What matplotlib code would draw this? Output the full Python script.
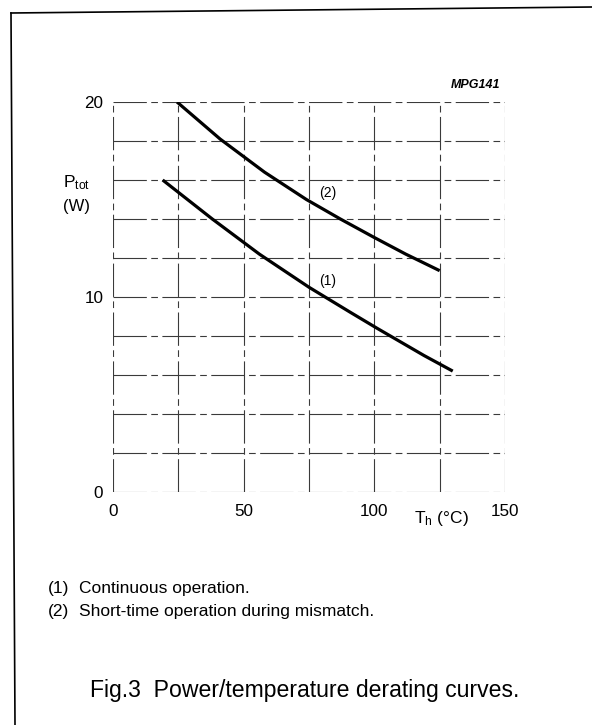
import matplotlib
matplotlib.use('Agg')
import matplotlib.pyplot as plt
from matplotlib.lines import Line2D

plt.rcParams['font.family'] = ['Liberation Sans', 'DejaVu Sans']
plt.rcParams['mathtext.fontset'] = 'custom'
plt.rcParams['mathtext.rm'] = 'Liberation Sans'
plt.rcParams['mathtext.it'] = 'Liberation Sans:italic'

# ---- data ----
temp_1 = [19, 38, 56, 75, 91, 101, 119, 130]          # curve (1) Th (degC)
ptot_1 = [16.0, 14.0, 12.2, 10.5, 9.2, 8.4, 7.0, 6.2]  # curve (1) Ptot (W)
temp_2 = [24.5, 41, 58, 74, 87, 100, 112, 125]         # curve (2)
ptot_2 = [20.0, 18.1, 16.4, 15.0, 14.0, 13.05, 12.2, 11.35]
x_ticks = [0, 50, 100, 150]
y_ticks = [0, 10, 20]
x_grid = [0, 25, 50, 75, 100, 125, 150]
y_grid = [0, 2, 4, 6, 8, 10, 12, 14, 16, 18, 20]
curve_labels = ["(1)", "(2)"]
notes_num = ["(1)", "(2)"]
notes_txt = ["Continuous operation.", "Short-time operation during mismatch."]
caption = "Fig.3  Power/temperature derating curves."
code_label = "MPG141"

W, H = 592, 725
fig = plt.figure(figsize=(W / 100, H / 100), dpi=100)
fig.patch.set_facecolor('white')

ax = fig.add_axes([113 / W, 1 - 492 / H, 392 / W, 390 / H])
ax.set_xlim(0, 150)
ax.set_ylim(0, 20)
for s in ax.spines.values():
    s.set_visible(False)

grid_style = dict(color='#3a3a3a', lw=0.8, ls=(0, (30, 4, 6, 4)), zorder=1)
for gx in x_grid:
    ax.axvline(gx, **grid_style)
for gy in y_grid:
    ax.axhline(gy, **grid_style)

ax.set_xticks(x_ticks)
ax.set_yticks(y_ticks)
ax.set_xticklabels([str(v) for v in x_ticks])
ax.set_yticklabels([str(v) for v in y_ticks])
ax.tick_params(axis='both', length=0, labelsize=12.3, colors='black')
ax.tick_params(axis='x', pad=9)
ax.tick_params(axis='y', pad=7)

ax.plot(temp_1, ptot_1, color='black', lw=2.3, solid_capstyle='butt',
        solid_joinstyle='round', zorder=3)
ax.plot(temp_2, ptot_2, color='black', lw=2.3, solid_capstyle='butt',
        solid_joinstyle='round', zorder=3)

ax.text(82.3, 10.8, curve_labels[0], ha='center', va='center', fontsize=10)
ax.text(82.3, 15.33, curve_labels[1], ha='center', va='center', fontsize=10)

# axis titles
fig.text(77 / W, 1 - 187 / H, r"P$_\mathrm{tot}$", ha='center', va='baseline', fontsize=12.5)
fig.text(76 / W, 1 - 207 / H, "(W)", ha='center', va='center', fontsize=12)
fig.text(441 / W, 1 - 518 / H, r"T$_\mathrm{h}$ (°C)", ha='center', va='center', fontsize=12.5)

fig.text(476 / W, 1 - 85 / H, code_label, ha='center', va='center', fontsize=9,
         style='italic', weight='bold')

# notes
for i, (n, t) in enumerate(zip(notes_num, notes_txt)):
    y = 588 + 23.5 * i
    fig.text(48 / W, 1 - y / H, n, ha='left', va='center', fontsize=12.5)
    fig.text(79 / W, 1 - y / H, t, ha='left', va='center', fontsize=12.5)

fig.text(90 / W, 1 - 690 / H, caption, ha='left', va='center', fontsize=16.6)

# page frame
fig.add_artist(Line2D([11 / W, 1.0], [1 - 13 / H, 1 - 7 / H], transform=fig.transFigure,
                      color='black', lw=1.2))
fig.add_artist(Line2D([11 / W, 15 / W], [1 - 13 / H, 0], transform=fig.transFigure,
                      color='black', lw=1.2))

fig.savefig('out.png', dpi=100, facecolor='white')
